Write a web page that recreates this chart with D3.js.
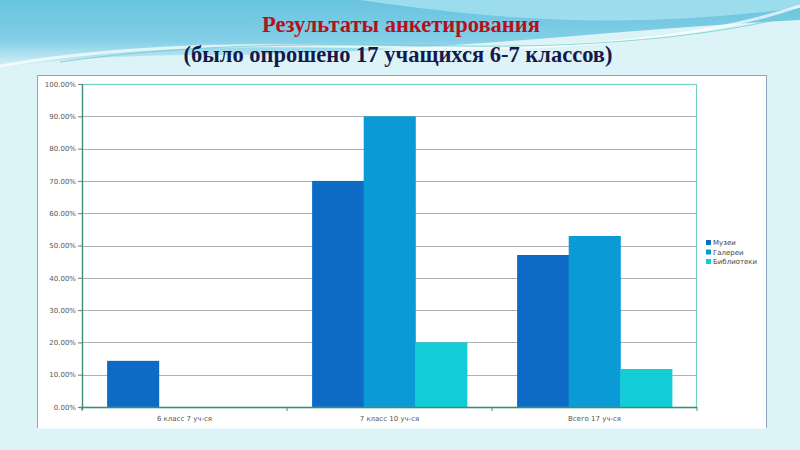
<!DOCTYPE html>
<html><head><meta charset="utf-8">
<script src="https://cdn.jsdelivr.net/npm/d3@7/dist/d3.min.js"></script>
<style>body{margin:0;padding:0;overflow:hidden;background:#dcf3f8}</style>
</head><body><svg id="c" width="800" height="450"></svg>
<script>
const categories = ["6 класс 7 уч-ся", "7 класс 10 уч-ся", "Всего 17 уч-ся"];
const seriesNames = ["Музеи", "Галереи", "Библиотеки"];
const museums   = [14.29, 70, 47.06];
const galleries = [0, 90, 52.94];
const libraries = [0, 20, 11.76];
const yTicks = [0,10,20,30,40,50,60,70,80,90,100];
const titleLines = ["Результаты анкетирования", "(было опрошено 17 учащихся 6-7 классов)"];
const colors = ["#0d6bc5", "#0a9bd7", "#12ccd6"];

const svg = d3.select("#c");
// background
const defs = svg.append("defs");
const g1 = defs.append("linearGradient").attr("id","bg").attr("x1",0).attr("y1",0).attr("x2",0).attr("y2",1);
g1.append("stop").attr("offset","0").attr("stop-color","#62c1de");
g1.append("stop").attr("offset","0.6").attr("stop-color","#7fcde6");
g1.append("stop").attr("offset","1").attr("stop-color","#dcf3f8");
svg.append("rect").attr("width",800).attr("height",450).attr("fill","#dcf3f8");
svg.append("path").attr("d","M0,0 L800,0 L800,20 C600,30 420,55 200,55 C120,55 50,60 0,68 Z").attr("fill","url(#bg)").attr("opacity",0.95);
svg.append("path").attr("d","M360,0 C500,20 620,30 800,8 L800,0 Z").attr("fill","#a8e2f0").attr("opacity",0.8);
svg.append("path").attr("d","M0,66 C150,40 300,45 420,48 C560,50 700,40 800,6").attr("fill","none").attr("stroke","#ffffff").attr("stroke-width",3).attr("opacity",0.7);
svg.append("path").attr("d","M60,62 C200,42 330,44 460,46 C600,48 720,35 800,14").attr("fill","none").attr("stroke","#6fd0c8").attr("stroke-width",1).attr("opacity",0.8);

// titles
svg.append("text").attr("x",401).attr("y",32).attr("text-anchor","middle")
  .attr("font-family","Liberation Serif, serif").attr("font-weight","bold").attr("font-size",22.5)
  .attr("fill","#b3121c").text(titleLines[0]);
svg.append("text").attr("x",398).attr("y",62).attr("text-anchor","middle")
  .attr("font-family","Liberation Serif, serif").attr("font-weight","bold").attr("font-size",22.5)
  .attr("fill","#15194a").text(titleLines[1]);

// white panel
svg.append("rect").attr("x",37.5).attr("y",75.5).attr("width",729).attr("height",353).attr("fill","#fff");
svg.append("path").attr("d","M37.5,428 V75.5 H766.5 V428").attr("fill","none").attr("stroke","#8aa5c2").attr("stroke-width",1);

const m = {l:82, r:697, t:84, b:407};
const x = d3.scaleBand().domain(categories).range([m.l, m.r]).paddingInner(0.245).paddingOuter(0.1225);
const xs = d3.scaleBand().domain(seriesNames).range([0, x.bandwidth()]);
const y = d3.scaleLinear().domain([0,100]).range([m.b, m.t]);

// grid
svg.append("g").selectAll("line").data(yTicks.filter(d=>d>0 && d<100)).join("line")
  .attr("x1",m.l).attr("x2",m.r).attr("y1",d=>Math.round(y(d))+0.5).attr("y2",d=>Math.round(y(d))+0.5)
  .attr("stroke","#b0b0b0").attr("stroke-width",1);

// bars
const data = [museums, galleries, libraries];
const band = (m.r - m.l)/categories.length;
categories.forEach((c,i)=>{
  seriesNames.forEach((s,j)=>{
    const v = data[j][i];
    if (v<=0) return;
    svg.append("rect").attr("x",x(c)+xs(s)).attr("width",xs.bandwidth()+0.5)
      .attr("y",y(v)).attr("height",y(0)-y(v)).attr("fill",colors[j]);
  });
});

// plot border
svg.append("rect").attr("x",m.l+0.5).attr("y",m.t+0.5).attr("width",m.r-m.l-1).attr("height",m.b-m.t)
  .attr("fill","none").attr("stroke","#6fd3c0").attr("stroke-width",1.2);
svg.append("line").attr("x1",m.l+0.5).attr("x2",m.l+0.5).attr("y1",m.t).attr("y2",m.b+3).attr("stroke","#3f8c78").attr("stroke-width",1.3);
svg.append("line").attr("x1",m.l-3).attr("x2",m.r).attr("y1",m.b+0.5).attr("y2",m.b+0.5).attr("stroke","#3f8c78").attr("stroke-width",1.3);

// y axis
const ya = svg.append("g").attr("transform",`translate(${m.l},0)`).call(d3.axisLeft(y).tickValues(yTicks).tickSize(4).tickFormat(d=>d.toFixed(2)+"%"));
ya.select(".domain").remove();
ya.selectAll("line").attr("stroke","#777");
ya.selectAll("text").attr("font-family","DejaVu Sans, sans-serif").attr("font-size",7).attr("fill","#555").attr("x",-6);

// x axis
const xa = svg.append("g").attr("transform",`translate(0,${m.b})`).call(d3.axisBottom(x).tickSize(0).tickPadding(9));
xa.select(".domain").remove();
xa.selectAll("text").attr("font-family","DejaVu Sans, sans-serif").attr("font-size",7).attr("fill","#555");
// category boundary ticks
svg.append("g").selectAll("line").data(d3.range(categories.length+1)).join("line")
  .attr("x1",d=>m.l+d*band).attr("x2",d=>m.l+d*band).attr("y1",m.b).attr("y2",m.b+4)
  .attr("stroke","#777");

// legend
const lg = svg.append("g").attr("transform","translate(706,240)");
seriesNames.forEach((s,j)=>{
  lg.append("rect").attr("x",0).attr("y",j*9.5).attr("width",5).attr("height",5).attr("fill",colors[j]);
  lg.append("text").attr("x",7).attr("y",j*9.5+5).attr("font-family","DejaVu Sans, sans-serif").attr("font-size",7).attr("fill","#444").text(s);
});
</script></body></html>
